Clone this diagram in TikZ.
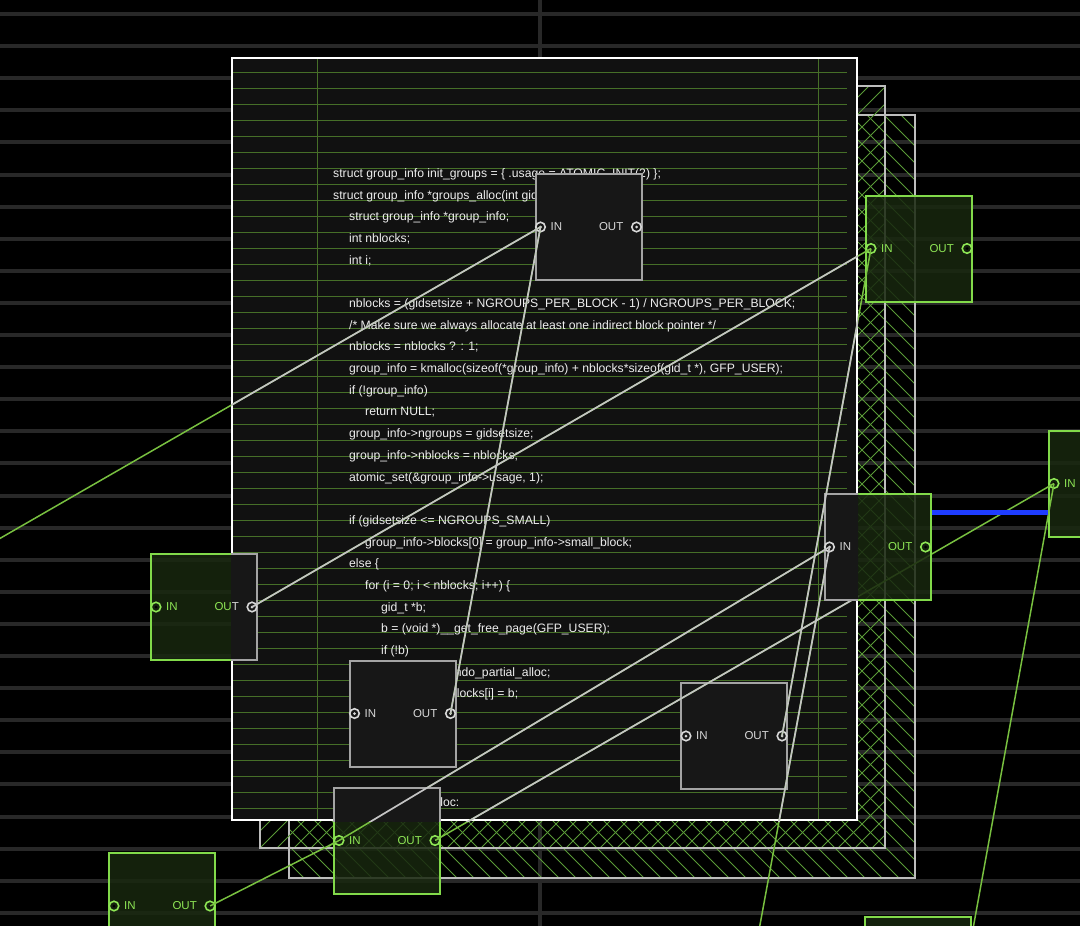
\documentclass[tikz,border=0pt]{standalone}
\usepackage{fontspec}
\setmainfont{Liberation Sans}
\definecolor{bandc}{HTML}{282828}
\definecolor{panelc}{HTML}{111111}
\definecolor{gridc}{HTML}{466F28}
\definecolor{hatchc}{HTML}{5A9A38}
\definecolor{hbordc}{HTML}{BDBDBD}
\definecolor{codec}{HTML}{EEEEEE}
\definecolor{gedge}{HTML}{82DA4A}
\definecolor{gfill}{HTML}{18270F}
\definecolor{glbl}{HTML}{8EE655}
\definecolor{gwirec}{HTML}{78C040}
\definecolor{wedge}{HTML}{A4A4A4}
\definecolor{wfill}{HTML}{171717}
\definecolor{wlblc}{HTML}{D8D8D8}
\definecolor{wwirec}{HTML}{C4C4C4}
\definecolor{bluec}{HTML}{1E3CFF}
\tikzset{
  band/.style={draw=bandc, line width=4pt},
  gridl/.style={draw=gridc, line width=0.7pt},
  hatchl/.style={draw=hatchc, line width=0.9pt},
  hbord/.style={draw=hbordc, line width=1.6pt},
  code/.style={text=codec, font=\fontsize{12.2}{14}\selectfont, inner sep=0pt, anchor=base west},
  gbox/.style={draw=gedge, fill=gfill, fill opacity=0.85, line width=2pt, minimum width=106pt, minimum height=106pt, inner sep=0pt},
  wbox/.style={draw=wedge, fill=wfill, line width=2pt, minimum width=106pt, minimum height=106pt, inner sep=0pt},
  gport/.style={circle, draw=glbl, line width=1.6pt, minimum size=9.5pt, inner sep=0pt,
     path picture={\fill[glbl] (path picture bounding box.center) circle (1.5pt);}},
  wport/.style={circle, draw=wlblc, line width=1.6pt, minimum size=9.5pt, inner sep=0pt,
     path picture={\fill[wlblc] (path picture bounding box.center) circle (1.5pt);}},
  glbl/.style={text=glbl, font=\fontsize{11.5}{13}\selectfont, inner sep=0pt},
  wlbl/.style={text=wlblc, font=\fontsize{11.5}{13}\selectfont, inner sep=0pt},
  gwire/.style={draw=gwirec, line width=1.5pt},
  wwire/.style={draw=wwirec, line width=1.7pt},
  bluebar/.style={draw=bluec, line width=5pt},
}
\newcommand\blk[4]{%
  \node[#1box] (#2) at (#3,#4) {};
  \node[#1port] (#2i) at ({#3-48},#4) {};
  \node[#1port] (#2o) at ({#3+48},#4) {};
  \node[#1lbl, anchor=west] (#2il) at ({#3-38},#4) {IN};
  \node[#1lbl, anchor=east] (#2ol) at ({#3+35},#4) {OUT};
}
% blocks that cross the panel edge, the wire that runs behind g3, and all wires
\newcommand\shared[1]{%
  \blk{#1}{gl}{204}{607}
  \blk{#1}{gb}{387}{840.5}
  \draw[#1wire] (gbo.center) -- (g2i.center);
  \blk{#1}{g3}{877.5}{547}
  \draw[#1wire] (offL) -- (b1i.center);
  \draw[#1wire] (bmo.center) -- (b1i.center);
  \draw[#1wire] (glo.center) -- (g1i.center);
  \draw[#1wire] (bro.center) -- (g1i.center);
  \draw[#1wire] (gto.center) -- (g2i.center);
  \draw[#1wire] (offB) -- (g3i.center);
  \draw[#1wire] (gfo.center) -- (gbi.center);
  \draw[#1wire] (gbi.center) -- (g3i.center);
}
\newcommand\cl[3]{\node[code] (t#2) at ({333+16*#1},{177.5+21.68*#2}) {#3};}
\begin{document}
\begin{tikzpicture}[x=1pt,y=-1pt]
\useasboundingbox (0,0) rectangle (1080,926);
\clip (0,0) rectangle (1080,926);
\fill[black] (0,0) rectangle (1080,926);
\foreach \k in {0,...,28} \draw[band] (0,{14+32.1*\k}) -- (1080,{14+32.1*\k});
\draw[draw=bandc, line width=4pt] (540,0) -- (540,926);
\coordinate (offL) at (-100,596);
\coordinate (offB) at (748,990);
% hatched rectangles
\begin{scope}
  \clip (289,115) rectangle (915,878);
  \foreach \k in {-50,...,40} \draw[hatchl] ({289+17*\k},115) -- ++(800,800);
\end{scope}
\draw[hbord] (289,115) rectangle (915,878);
\begin{scope}
  \clip (260,86) rectangle (885,848);
  \foreach \k in {-50,...,40} \draw[hatchl] ({260+17*\k},848) -- ++(800,-800);
\end{scope}
\draw[hbord] (260,86) rectangle (885,848);
% panel
\fill[panelc] (232,58) rectangle (857,820);
\foreach \k in {0,...,46} \draw[gridl] (233,{72+16*\k}) -- (847,{72+16*\k});
\draw[gridl] (317,59) -- (317,819);
\draw[gridl] (818,59) -- (818,819);
\cl{0}{0}{struct group\_info init\_groups = \{ .usage = ATOMIC\_INIT(2) \};}
\cl{0}{1}{struct group\_info *groups\_alloc(int gidsetsize)\{}
\cl{1}{2}{struct group\_info *group\_info;}
\cl{1}{3}{int nblocks;}
\cl{1}{4}{int i;}
\cl{1}{6}{nblocks = (gidsetsize + NGROUPS\_PER\_BLOCK - 1) / NGROUPS\_PER\_BLOCK;}
\cl{1}{7}{/* Make sure we always allocate at least one indirect block pointer */}
\cl{1}{8}{nblocks = nblocks ? : 1;}
\cl{1}{9}{group\_info = kmalloc(sizeof(*group\_info) + nblocks*sizeof(gid\_t *), GFP\_USER);}
\cl{1}{10}{if (!group\_info)}
\cl{2}{11}{return NULL;}
\cl{1}{12}{group\_info->ngroups = gidsetsize;}
\cl{1}{13}{group\_info->nblocks = nblocks;}
\cl{1}{14}{atomic\_set(\&group\_info->usage, 1);}
\cl{1}{16}{if (gidsetsize <= NGROUPS\_SMALL)}
\cl{2}{17}{group\_info->blocks[0] = group\_info->small\_block;}
\cl{1}{18}{else \{}
\cl{2}{19}{for (i = 0; i < nblocks; i++) \{}
\cl{3}{20}{gid\_t *b;}
\cl{3}{21}{b = (void *)\_\_get\_free\_page(GFP\_USER);}
\cl{3}{22}{if (!b)}
\cl{4}{23}{goto out\_undo\_partial\_alloc;}
\cl{3}{24}{group\_info->blocks[i] = b;}
\cl{1}{26}{\}}
\cl{0}{29}{out\_undo\_partial\_alloc:}
\draw[draw=white, line width=2pt] (232,58) rectangle (857,820);
% grey blocks lying wholly inside the panel
\blk{w}{b1}{588.5}{227}
\blk{w}{bm}{402.5}{713.5}
\blk{w}{br}{734}{736}
% green blocks lying wholly outside the panel
\blk{g}{g1}{919}{248.5}
\blk{g}{g2}{1102}{483.5}
\blk{g}{gf}{162}{906}
\blk{g}{gt}{917.5}{970}
% green layer
\shared{g}
\draw[bluebar] ([yshift=35pt]g3.east) -- ([yshift=-28.5pt]g2.west);
% grey layer inside the panel
\begin{scope}
  \clip (231,57) rectangle (858,821);
  \shared{w}
\end{scope}
\end{tikzpicture}
\end{document}
